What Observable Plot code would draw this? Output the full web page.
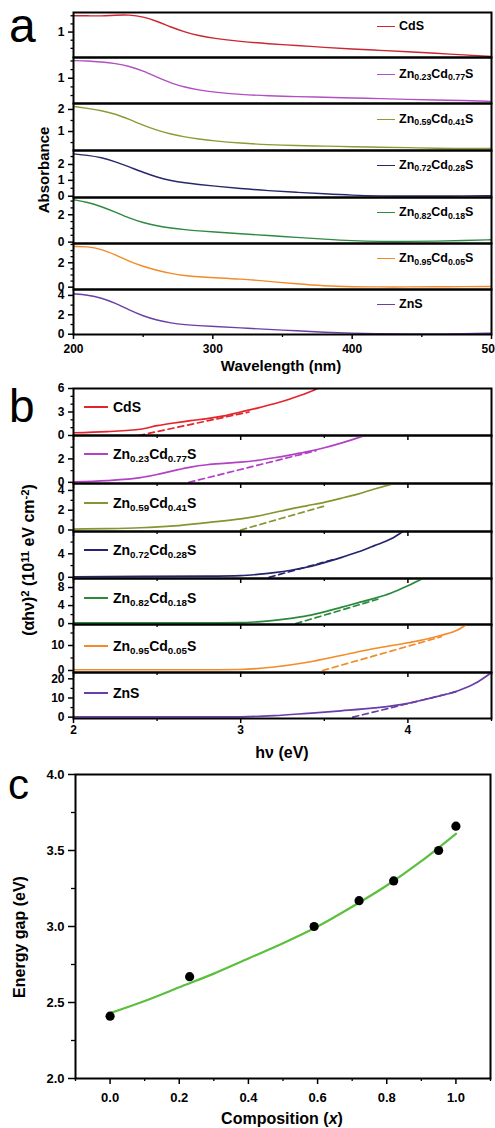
<!DOCTYPE html>
<html><head><meta charset="utf-8">
<script src="https://cdn.jsdelivr.net/npm/d3@7"></script>
<script src="https://cdn.jsdelivr.net/npm/@observablehq/plot@0.6"></script>
<style>
html,body{margin:0;padding:0;background:#fff;overflow:hidden}
#fig{position:relative;width:495px;height:1128px;font-family:"Liberation Sans",Arial,sans-serif;font-weight:bold;color:#000;overflow:hidden}
#fig svg{position:absolute;left:0}
.t{position:absolute;white-space:nowrap;line-height:1}
.rot{position:absolute;white-space:nowrap;line-height:1;transform:translate(-50%,-50%) rotate(-90deg)}
.leg{position:absolute;white-space:nowrap;line-height:1;display:flex;align-items:center}
.leg .sw{display:inline-block;height:0}
sub{font-size:70%;position:relative;top:0.3em;vertical-align:baseline;line-height:0}
sup{font-size:70%;position:relative;top:-0.45em;vertical-align:baseline;line-height:0}
</style></head>
<body><div id="fig"></div>
<script>
// ---------- DATA ----------
// Panel a: absorbance spectra
const wavelengths = [200,210,220,230,240,250,260,270,280,290,300,320,340,360,380,400,420,440,460,480,500];
const absCdS  = [1.50,1.50,1.49,1.52,1.53,1.47,1.33,1.15,1.00,0.89,0.81,0.71,0.64,0.59,0.53,0.48,0.44,0.40,0.35,0.30,0.25];
const absZ23  = [1.51,1.50,1.47,1.43,1.35,1.21,1.03,0.86,0.74,0.66,0.60,0.53,0.49,0.47,0.45,0.43,0.41,0.39,0.37,0.36,0.33];
const absZ59  = [2.14,2.05,1.95,1.80,1.55,1.28,1.05,0.88,0.75,0.66,0.58,0.47,0.40,0.36,0.34,0.31,0.29,0.27,0.24,0.23,0.23];
const absZ72  = [2.67,2.58,2.44,2.18,1.85,1.50,1.20,0.98,0.84,0.74,0.65,0.48,0.35,0.25,0.15,0.06,0.02,0.01,0.01,0.02,0.03];
const absZ82  = [3.10,2.92,2.60,2.20,1.75,1.42,1.18,1.02,0.91,0.82,0.75,0.61,0.48,0.35,0.22,0.10,0.05,0.05,0.07,0.12,0.17];
const absZ95  = [3.34,3.34,3.12,2.65,2.12,1.70,1.38,1.12,0.95,0.85,0.78,0.67,0.48,0.27,0.10,0.03,0.02,0.02,0.03,0.05,0.06];
const absZnS  = [4.17,4.05,3.75,3.20,2.48,1.88,1.44,1.15,0.98,0.88,0.80,0.65,0.50,0.35,0.20,0.10,0.05,0.03,0.02,0.05,0.10];
const wavelengthTicks = [200,300,400,500];

// Panel b: Tauc plots (solid) and tangent lines (dashed)
const hvCdS = [2.0,2.2,2.4,2.5,2.6,2.7,2.8,2.9,3.0,3.1,3.2,3.3,3.4,3.46];
const tauCdS = [0.35,0.5,0.8,1.25,1.6,1.9,2.15,2.5,3.0,3.5,4.05,4.7,5.45,6.0];
const hvZ23 = [2.0,2.2,2.4,2.5,2.6,2.7,2.8,2.9,3.0,3.1,3.2,3.3,3.4,3.5,3.6,3.7,3.74];
const tauZ23 = [0.05,0.15,0.4,0.67,1.0,1.3,1.5,1.62,1.72,1.88,2.1,2.35,2.62,2.95,3.35,3.8,4.0];
const hvZ59 = [2.0,2.2,2.4,2.6,2.8,3.0,3.1,3.2,3.3,3.4,3.5,3.6,3.7,3.8,3.92];
const tauZ59 = [0.1,0.14,0.23,0.42,0.75,1.12,1.4,1.77,2.14,2.47,2.8,3.2,3.63,4.14,4.7];
const hvZ72 = [2.0,2.4,2.8,3.0,3.1,3.2,3.3,3.4,3.5,3.6,3.7,3.8,3.9,3.97];
const tauZ72 = [0.1,0.15,0.2,0.3,0.5,0.8,1.2,1.75,2.5,3.35,4.3,5.4,6.55,7.8];
const hvZ82 = [2.0,2.8,3.0,3.1,3.2,3.3,3.4,3.5,3.6,3.7,3.8,3.9,4.0,4.09];
const tauZ82 = [0.15,0.15,0.2,0.4,0.7,1.15,1.75,2.6,3.6,4.6,5.6,6.8,8.4,10.0];
const hvZ95 = [2.0,2.8,3.0,3.2,3.4,3.6,3.8,4.0,4.1,4.2,4.3,4.35];
const tauZ95 = [0.3,0.3,0.4,1.4,3.3,6.0,8.8,11.1,12.4,14.1,16.3,18.4];
const hvZnS = [2.0,3.0,3.2,3.4,3.6,3.8,4.0,4.1,4.2,4.3,4.4,4.5];
const tauZnS = [0.1,0.2,0.8,2.0,3.3,4.8,7.2,9.2,11.3,13.8,17.5,23.3];
// tangent lines: [start hv, end hv], [start value, end value]
const fitHvCdS = [2.39,3.05], fitTauCdS = [0,3.0];
const fitHvZ23 = [2.69,3.45], fitTauZ23 = [0,2.7];
const fitHvZ59 = [3.0,3.5],   fitTauZ59 = [0,2.42];
const fitHvZ72 = [3.17,3.55], fitTauZ72 = [0,3.0];
const fitHvZ82 = [3.33,3.82], fitTauZ82 = [0,5.4];
const fitHvZ95 = [3.49,4.2],  fitTauZ95 = [0,13.5];
const fitHvZnS = [3.67,4.3],  fitTauZnS = [0,13.5];
const energyTicks = [2,3,4];

// Panel c: band gap vs composition
const composition = [0,0.23,0.59,0.72,0.82,0.95,1.0];
const energyGap = [2.41,2.67,3.00,3.17,3.30,3.50,3.66];
const fitComposition = [0,0.1,0.2,0.3,0.4,0.5,0.6,0.7,0.8,0.9,1.0];
const fitGap = [2.43,2.51,2.60,2.69,2.79,2.89,3.00,3.13,3.27,3.43,3.61];
const compositionTicks = [0,0.2,0.4,0.6,0.8,1.0];
const gapTicks = [2.0,2.5,3.0,3.5,4.0];

// Sample names (HTML for subscripts)
const sampleNames = ["CdS","Zn<sub>0.23</sub>Cd<sub>0.77</sub>S","Zn<sub>0.59</sub>Cd<sub>0.41</sub>S","Zn<sub>0.72</sub>Cd<sub>0.28</sub>S","Zn<sub>0.82</sub>Cd<sub>0.18</sub>S","Zn<sub>0.95</sub>Cd<sub>0.05</sub>S","ZnS"];

// ---------- STYLE / LAYOUT ----------
const colorsA = ["#cc2630","#b24fc2","#8c9b34","#27276c","#2e8a40","#f28a26","#6c3fa6"];
const colorsB = ["#e5232b","#b142c4","#869530","#25256e","#2a8a3c","#f28c28","#6a3ea8"];
const FONT = "'Liberation Sans', Arial, sans-serif";
const fig = document.getElementById("fig");

function zip(xs, ys){ return xs.map((x,i)=>({x, y: ys[i]})); }

function subplot(o){
  const marks = [];
  for (const s of o.series) {
    marks.push(Plot.line(s.data, {x:"x", y:"y", stroke:s.color, strokeWidth:s.width||1.4,
      strokeDasharray:s.dash, curve:s.curve||"linear", clip:true}));
  }
  if (o.dots) marks.push(Plot.dot(o.dots, {x:"x", y:"y", r:4.6, fill:"#000", stroke:"none"}));
  if (o.yMinor) marks.push(Plot.axisY(o.yMinor, {tickSize:o.yMinorSize||2.5, tickFormat:()=>"", label:null, strokeWidth:1.3}));
  marks.push(Plot.axisY(o.yTicks, {tickSize:o.yTickSize||5, tickPadding:o.yPad||3, tickFormat:o.yFormat||(d=>String(d)), label:null, strokeWidth:1.5}));
  if (o.xMinor) marks.push(Plot.axisX(o.xMinor, {tickSize:o.xMinorSize||3, tickFormat:()=>"", label:null, strokeWidth:1.3}));
  marks.push(Plot.axisX(o.xTicks, {tickSize:o.xTickSize||5, tickPadding:o.xPad||3,
    tickFormat:o.xLabels ? (o.xFormat||(d=>String(d))) : ()=>"", label:null, strokeWidth:1.5}));
  marks.push(Plot.frame({stroke:"#000", strokeWidth:2}));
  const svg = Plot.plot({
    width:495, height:o.bottom - o.top,
    marginLeft:o.left, marginRight:495 - o.right, marginTop:0, marginBottom:0,
    x:{domain:o.xDomain, label:null}, y:{domain:o.yDomain, label:null},
    style:{fontFamily:FONT, fontWeight:"bold", fontSize:(o.fontSize||12)+"px", background:"transparent", overflow:"visible", color:"#000"},
    marks
  });
  svg.style.position = "absolute";
  svg.style.top = o.top + "px";
  svg.style.left = "0px";
  svg.style.overflow = "visible";
  fig.appendChild(svg);
}

function text(html, {x, baseline, size, weight="bold", anchor="start", style=""}){
  const d = document.createElement("div");
  d.className = "t";
  d.innerHTML = html;
  d.style.fontSize = size + "px";
  d.style.fontWeight = weight;
  d.style.top = (baseline - 0.8465*size) + "px";
  d.style.left = x + "px";
  if (anchor === "middle") d.style.transform = "translateX(-50%)";
  if (style) d.style.cssText += style;
  fig.appendChild(d);
}
function rotText(html, cx, cy, size){
  const d = document.createElement("div");
  d.className = "rot";
  d.innerHTML = html;
  d.style.fontSize = size + "px";
  d.style.left = cx + "px";
  d.style.top = cy + "px";
  fig.appendChild(d);
}
function legend(html, color, x1, x2, gap, y, size, lw){
  const d = document.createElement("div");
  d.className = "leg";
  d.style.fontSize = size + "px";
  d.style.left = x1 + "px";
  d.style.top = (y - size/2) + "px";
  d.innerHTML = `<span class="sw" style="width:${x2-x1}px;border-top:${lw}px solid ${color};margin-right:${gap}px"></span><span>${html}</span>`;
  fig.appendChild(d);
}

// ---------- PANEL a ----------
const absSeries = [absCdS, absZ23, absZ59, absZ72, absZ82, absZ95, absZnS];
const aLayout = [
  {top:12,  bottom:57,  yDomain:[0.22,1.6],  yTicks:[1],     yMinor:[0.5,0.75,1.25,1.5]},
  {top:57,  bottom:103, yDomain:[0.27,1.6],  yTicks:[1],     yMinor:[0.5,0.75,1.25,1.5]},
  {top:103, bottom:150, yDomain:[0.14,2.27], yTicks:[1,2],   yMinor:[0.5,1.5]},
  {top:150, bottom:197, yDomain:[-0.08,2.88],yTicks:[0,1,2], yMinor:[0.5,1.5,2.5]},
  {top:197, bottom:243, yDomain:[-0.1,3.26], yTicks:[0,2],   yMinor:[0.5,1,1.5,2.5,3]},
  {top:243, bottom:289, yDomain:[-0.19,3.58],yTicks:[0,2],   yMinor:[0.5,1,1.5,2.5,3,3.5]},
  {top:289, bottom:334, yDomain:[-0.03,4.61],yTicks:[0,2,4], yMinor:[1,3]}
];
const aLegendY = [26.7, 74, 119, 165, 212.3, 258.3, 304.3];
aLayout.forEach((L,i)=>{
  const last = i === aLayout.length-1;
  subplot({...L, left:73, right:491, xDomain:[200,500],
    xTicks: last ? wavelengthTicks : [], xMinor: last ? [250,350,450] : null, xLabels:last,
    xTickSize:5, xPad:5, yTickSize:5, yPad:4, fontSize:12,
    series:[{data:zip(wavelengths, absSeries[i]), color:colorsA[i], width:1.4, curve:"basis"}]});
  legend(sampleNames[i], colorsA[i], 377, 395, 4, aLegendY[i], 12.5, 1.6);
});
text("a", {x:9, baseline:43, size:48, weight:"normal"});
text("Wavelength (nm)", {x:281, baseline:371, size:15, anchor:"middle"});
rotText("Absorbance", 43, 170, 15);

// ---------- PANEL b ----------
const tauHv = [hvCdS,hvZ23,hvZ59,hvZ72,hvZ82,hvZ95,hvZnS];
const tauVals = [tauCdS,tauZ23,tauZ59,tauZ72,tauZ82,tauZ95,tauZnS];
const fitHv = [fitHvCdS,fitHvZ23,fitHvZ59,fitHvZ72,fitHvZ82,fitHvZ95,fitHvZnS];
const fitTau = [fitTauCdS,fitTauZ23,fitTauZ59,fitTauZ72,fitTauZ82,fitTauZ95,fitTauZnS];
const bLayout = [
  {top:388, bottom:435, yDomain:[0,6],       yTicks:[0,3,6],    yMinor:[1,2,4,5]},
  {top:435, bottom:483, yDomain:[-0.1,4],    yTicks:[0,2],      yMinor:[1,3]},
  {top:483, bottom:531, yDomain:[-0.15,4.7], yTicks:[0,2,4],    yMinor:[1,3]},
  {top:531, bottom:578, yDomain:[-0.2,7.8],  yTicks:[0,4],      yMinor:[2,6]},
  {top:578, bottom:624, yDomain:[-0.2,10],   yTicks:[0,4,8],    yMinor:[2,6]},
  {top:624, bottom:672, yDomain:[-0.8,18.4], yTicks:[0,10],     yMinor:[5,15]},
  {top:672, bottom:718, yDomain:[-0.7,23.3], yTicks:[0,10,20],  yMinor:[5,15]}
];
const bLegendY = [406.7, 454.3, 502.7, 550, 597.7, 645.7, 693.3];
bLayout.forEach((L,i)=>{
  const last = i === bLayout.length-1;
  subplot({...L, left:73, right:491, xDomain:[2,4.5],
    xTicks: energyTicks, xMinor:[2.5,3.5,4.5], xLabels:last,
    xTickSize:5, xMinorSize:3, xPad:2, yTickSize:5, yPad:4, fontSize:12,
    series:[
      {data:zip(tauHv[i], tauVals[i]), color:colorsB[i], width:1.7, curve:"monotone-x"},
      {data:zip(fitHv[i], fitTau[i]), color:colorsB[i], width:1.7, dash:"6,4"}
    ]});
  legend(sampleNames[i], colorsB[i], 84, 108, 5, bLegendY[i], 14, 2);
});
text("b", {x:9, baseline:421.7, size:46, weight:"normal"});
text("h&nu; (eV)", {x:282, baseline:759, size:16, anchor:"middle"});
rotText("(&alpha;h&nu;)<sup>2</sup> (10<sup>11</sup> eV cm<sup>-2</sup>)", 29, 560, 16);

// ---------- PANEL c ----------
subplot({top:774, bottom:1078, left:75, right:490, xDomain:[-0.1,1.1], yDomain:[2,4],
  yTicks:gapTicks, yMinor:[2.25,2.75,3.25,3.75], yTickSize:7, yMinorSize:4, yPad:4, yFormat:d3.format(".1f"),
  xTicks:compositionTicks, xMinor:[-0.1,0.1,0.3,0.5,0.7,0.9,1.1], xTickSize:6, xMinorSize:3, xPad:8, xLabels:true, xFormat:d3.format(".1f"),
  fontSize:13,
  series:[{data:zip(fitComposition, fitGap), color:"#5cbf3e", width:2.2, curve:"monotone-x"}],
  dots: zip(composition, energyGap)});
text("c", {x:8, baseline:800, size:42, weight:"normal"});
text("Composition (<i>x</i>)", {x:282, baseline:1125, size:16, anchor:"middle"});
rotText("Energy gap (eV)", 20, 937, 16);
</script></body></html>
